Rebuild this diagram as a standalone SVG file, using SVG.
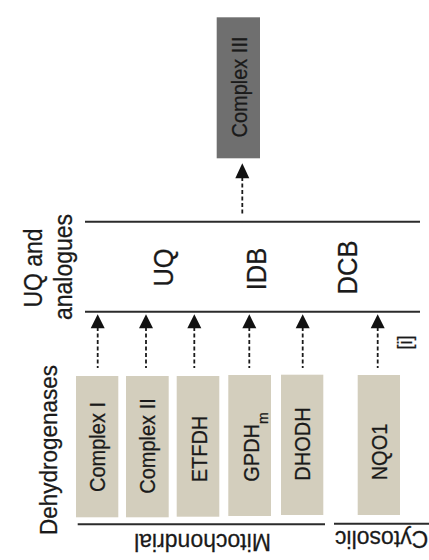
<svg xmlns="http://www.w3.org/2000/svg" width="429" height="560" viewBox="0 0 429 560">
  <defs>
    <style>
      text { font-family: "Liberation Sans", Arial, sans-serif; fill: #1a1a1a; stroke: #1a1a1a; stroke-width: 0.25; }
      .box { fill: #d3cebd; }
      .box3 { fill: #6f6f6f; }
      .lbl { font-size: 20px; text-anchor: middle; }
      .big { font-size: 25.5px; text-anchor: middle; }
      .hdr { font-size: 23px; text-anchor: middle; }
      .line { stroke: #2b2b2b; stroke-width: 2; fill: none; }
      .dash { stroke: #1a1a1a; stroke-width: 1.8; stroke-dasharray: 4 2.5; fill: none; }
      .head { fill: #111; }
    </style>
  </defs>

  <!-- Complex III -->
  <g id="complex3">
    <rect class="box3" x="216.7" y="17.3" width="43.3" height="141"/>
    <text class="lbl" transform="translate(246.5,87) rotate(-90) scale(1,1.08)">Complex III</text>
  </g>

  <!-- UQ and analogues -->
  <g id="uq-pool">
    <line class="line" x1="85" y1="221.7" x2="420" y2="221.7"/>
    <line class="line" x1="85" y1="311.7" x2="420" y2="311.7"/>
    <text class="hdr" transform="translate(41.7,268) rotate(-90) scale(1,1.1)">UQ and</text>
    <text class="hdr" transform="translate(71.5,267) rotate(-90) scale(1,1.1)">analogues</text>
    <text class="big" transform="translate(173.3,267.5) rotate(-90) scale(1,1.1)">UQ</text>
    <text class="big" transform="translate(265.5,269) rotate(-90) scale(1,1.1)">IDB</text>
    <text class="big" transform="translate(356.5,267.5) rotate(-90) scale(1,1.1)">DCB</text>
  </g>

  <!-- Dehydrogenases label -->
  <g id="dehydrogenases-label">
    <text style="font-size:22.5px;text-anchor:middle" transform="translate(57.3,450) rotate(-90) scale(1,1.1)">Dehydrogenases</text>
  </g>

  <!-- Dehydrogenase nodes -->
  <g id="complex1">
    <rect class="box" x="76" y="376" width="42.3" height="141.3"/>
    <text class="lbl" transform="translate(105,447) rotate(-90) scale(1,1.08)">Complex I</text>
  </g>
  <g id="complex2">
    <rect class="box" x="126" y="376" width="42.7" height="141.3"/>
    <text class="lbl" transform="translate(155,446) rotate(-90) scale(1,1.08)">Complex II</text>
  </g>
  <g id="etfdh">
    <rect class="box" x="176.7" y="376" width="42.6" height="140.7"/>
    <text class="lbl" transform="translate(207.3,449) rotate(-90) scale(1,1.08)">ETFDH</text>
  </g>
  <g id="gpdhm">
    <rect class="box" x="228.3" y="375" width="42.7" height="141"/>
    <text class="lbl" transform="translate(259.3,447) rotate(-90) scale(1,1.08)">GPDH<tspan style="font-size:14px" baseline-shift="sub">m</tspan></text>
  </g>
  <g id="dhodh">
    <rect class="box" x="281" y="374.7" width="42.3" height="140.3"/>
    <text class="lbl" transform="translate(310,444) rotate(-90) scale(1,1.08)">DHODH</text>
  </g>
  <g id="nqo1">
    <rect class="box" x="357.7" y="375" width="42.3" height="140"/>
    <text class="lbl" transform="translate(386.7,452) rotate(-90) scale(1,1.08)">NQO1</text>
  </g>

  <!-- Location labels -->
  <g id="mitochondrial">
    <line class="line" x1="77.7" y1="524.3" x2="325" y2="524.3"/>
    <text class="hdr" transform="translate(202.5,534) rotate(180) scale(1,1.05)">Mitochondrial</text>
  </g>
  <g id="cytosolic">
    <line class="line" x1="334" y1="523.7" x2="429" y2="523.7"/>
    <text style="font-size:23px;text-anchor:end" transform="translate(335,531) rotate(180) scale(1,1.05)">Cytosolic</text>
  </g>

  <!-- Note -->
  <g id="note">
    <text style="font-size:18px;text-anchor:middle" transform="translate(412,342.5) rotate(-90) scale(1,1.1)">[i]</text>
  </g>

  <!-- Connectors -->
  <g id="connectors">
    <line class="dash" x1="97.7" y1="327" x2="97.7" y2="368"/>
    <polygon class="head" points="97.7,314.3 90.7,328.3 104.7,328.3"/>
    <line class="dash" x1="146" y1="327" x2="146" y2="368"/>
    <polygon class="head" points="146,314.3 139,328.3 153,328.3"/>
    <line class="dash" x1="194.3" y1="327" x2="194.3" y2="368"/>
    <polygon class="head" points="194.3,314.3 187.3,328.3 201.3,328.3"/>
    <line class="dash" x1="249.3" y1="327" x2="249.3" y2="368"/>
    <polygon class="head" points="249.3,314.3 242.3,328.3 256.3,328.3"/>
    <line class="dash" x1="302.7" y1="327" x2="302.7" y2="368"/>
    <polygon class="head" points="302.7,314.3 295.7,328.3 309.7,328.3"/>
    <line class="dash" x1="377.7" y1="327" x2="377.7" y2="368"/>
    <polygon class="head" points="377.7,314.3 370.7,328.3 384.7,328.3"/>
    <line class="dash" x1="242.3" y1="177" x2="242.3" y2="216"/>
    <polygon class="head" points="242.3,163.3 235.3,178.3 249.3,178.3"/>
  </g>
</svg>
